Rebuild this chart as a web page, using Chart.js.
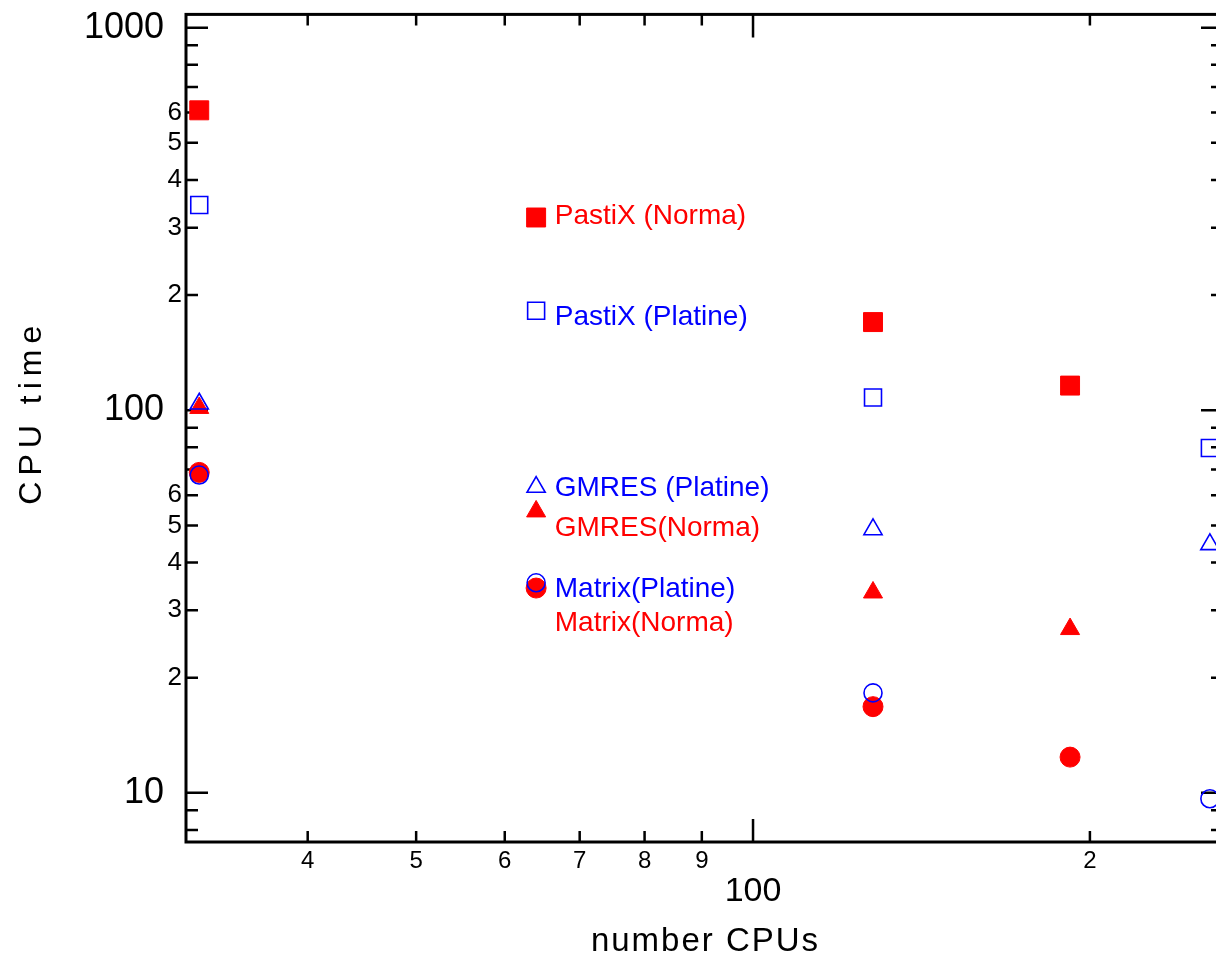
<!DOCTYPE html>
<html lang="en">
<head>
    <meta charset="UTF-8">
    <title>CPU time vs number CPUs</title>
    <style>
        html, body { margin: 0; padding: 0; background: #fff; overflow: hidden; }
        #wrap { width: 1216px; height: 962px; overflow: hidden; }
    </style>
</head>
<body>
    <div id="wrap"><canvas id="cpuChart" width="1240" height="962"></canvas></div>

    <script src="https://cdn.jsdelivr.net/npm/chart.js"></script>
    <script>
        // number of CPUs of each run
        const cpus = [32, 64, 128, 192, 256];

        // CPU time of each run (null = not run on that machine)
        const pastixNorma   = [608, 319, 170, 116, null];
        const pastixPlatine = [344, 182, 108, null, 79.7];
        const gmresPlatine  = [104, 63, 48.8, null, 44.6];
        const gmresNorma    = [101.4, 54.4, 33.4, 26.8, null];
        const matrixPlatine = [67.7, 35.4, 18.25, null, 9.65];
        const matrixNorma   = [68.8, 34.3, 16.8, 12.4, null];

        // tick values and their labels
        const xTicks = [40, 50, 60, 70, 80, 90, 100, 200];
        const xTickLabels = ['4', '5', '6', '7', '8', '9', '100', '2'];
        const yTicks = [8, 9, 10, 20, 30, 40, 50, 60, 70, 80, 90,
                        100, 200, 300, 400, 500, 600, 700, 800, 900, 1000];
        const yTickLabels = ['', '', '10', '2', '3', '4', '5', '6', '', '', '',
                             '100', '2', '3', '4', '5', '6', '', '', '', '1000'];
        const majorTicks = [10, 100, 1000];

        // where the series names are written (in data units)
        const labelX = 66.5;
        const labelY = [320.6, 175, 62.5, 49.2, 34.0, 27.8];

        const xTitle = 'number CPUs';
        const yTitle = 'CPU time';

        const FONT = '"Liberation Sans", Arial, Helvetica, sans-serif';
        Chart.defaults.font.family = FONT;
        Chart.defaults.color = '#000';

        function points(values) {
            return cpus.map((c, i) => ({ x: c, y: values[i] })).filter(p => p.y !== null);
        }

        // frame with inward ticks on all four sides
        const framePlugin = {
            id: 'frame',
            beforeDatasetsDraw(chart) {
                const { ctx, chartArea: a, scales: { x, y } } = chart;
                ctx.save();
                ctx.strokeStyle = '#000';
                ctx.lineWidth = 2.5;
                ctx.beginPath();
                x.ticks.forEach(t => {
                    const px = x.getPixelForValue(t.value);
                    const len = majorTicks.includes(t.value) ? 23 : 11;
                    ctx.moveTo(px, a.bottom); ctx.lineTo(px, a.bottom - len);
                    ctx.moveTo(px, a.top); ctx.lineTo(px, a.top + len);
                });
                y.ticks.forEach(t => {
                    const py = y.getPixelForValue(t.value);
                    const len = majorTicks.includes(t.value) ? 22 : 12;
                    ctx.moveTo(a.left, py); ctx.lineTo(a.left + len, py);
                    ctx.moveTo(a.right, py); ctx.lineTo(a.right - len, py);
                });
                ctx.stroke();
                ctx.lineWidth = 3;
                ctx.strokeRect(a.left, a.top, a.right - a.left, a.bottom - a.top);
                ctx.restore();
            },
            afterDraw(chart) {
                const { ctx, chartArea: a, scales: { x, y } } = chart;
                ctx.save();
                // series names next to the 64 CPU points
                ctx.font = '28px ' + FONT;
                ctx.textBaseline = 'middle';
                ctx.textAlign = 'left';
                chart.data.datasets.forEach((ds, i) => {
                    ctx.fillStyle = ds.borderColor;
                    ctx.fillText(ds.label, x.getPixelForValue(labelX), y.getPixelForValue(labelY[i]));
                });
                // axis titles (spaced out like the original)
                ctx.fillStyle = '#000';
                ctx.textAlign = 'center';
                ctx.font = '33px ' + FONT;
                ctx.letterSpacing = '2px';
                ctx.fillText(xTitle, (a.left + a.right) / 2 + 1, 942);
                ctx.font = '32px ' + FONT;
                ctx.letterSpacing = '6px';
                ctx.translate(32, (a.top + a.bottom) / 2 - 13);
                ctx.rotate(-Math.PI / 2);
                ctx.fillText(yTitle, 3, 0);
                ctx.restore();
            }
        };

        const ctx = document.getElementById('cpuChart').getContext('2d');
        new Chart(ctx, {
            type: 'scatter',
            data: {
                datasets: [
                    { label: 'PastiX (Norma)', data: points(pastixNorma), order: 2,
                      pointStyle: 'rect', pointRadius: 13.4, borderWidth: 1,
                      backgroundColor: '#ff0000', borderColor: '#ff0000' },
                    { label: 'PastiX (Platine)', data: points(pastixPlatine), order: 1,
                      pointStyle: 'rect', pointRadius: 12, borderWidth: 1.6,
                      backgroundColor: 'rgba(0,0,0,0)', borderColor: '#0000ff' },
                    { label: 'GMRES (Platine)', data: points(gmresPlatine), order: 1,
                      pointStyle: 'triangle', pointRadius: 10.5, borderWidth: 1.6,
                      backgroundColor: 'rgba(0,0,0,0)', borderColor: '#0000ff' },
                    { label: 'GMRES(Norma)', data: points(gmresNorma), order: 2,
                      pointStyle: 'triangle', pointRadius: 11, borderWidth: 1,
                      backgroundColor: '#ff0000', borderColor: '#ff0000' },
                    { label: 'Matrix(Platine)', data: points(matrixPlatine), order: 1,
                      pointStyle: 'circle', pointRadius: 9, borderWidth: 1.6,
                      backgroundColor: 'rgba(0,0,0,0)', borderColor: '#0000ff' },
                    { label: 'Matrix(Norma)', data: points(matrixNorma), order: 2,
                      pointStyle: 'circle', pointRadius: 10, borderWidth: 1,
                      backgroundColor: '#ff0000', borderColor: '#ff0000' }
                ]
            },
            options: {
                responsive: false,
                animation: false,
                events: [],
                layout: { padding: { top: 11, right: 17, left: 0, bottom: 0 } },
                plugins: { legend: { display: false }, tooltip: { enabled: false } },
                scales: {
                    x: {
                        type: 'logarithmic',
                        min: 31.14,
                        max: 263,
                        grid: { display: false, drawTicks: false },
                        border: { display: false },
                        afterBuildTicks: scale => { scale.ticks = xTicks.map(v => ({ value: v })); },
                        afterFit: scale => {
                            scale.height = 120;
                            scale.paddingLeft = 0;
                            scale.paddingRight = 0;
                        },
                        ticks: {
                            autoSkip: false,
                            maxRotation: 0,
                            padding: 6,
                            callback: (value, i) => xTickLabels[i],
                            font: c => majorTicks.includes(c.tick && c.tick.value)
                                ? { size: 34, lineHeight: '88px' }
                                : { size: 24, lineHeight: '26px' }
                        }
                    },
                    y: {
                        type: 'logarithmic',
                        min: 7.44,
                        max: 1083,
                        grid: { display: false, drawTicks: false },
                        border: { display: false },
                        afterBuildTicks: scale => { scale.ticks = yTicks.map(v => ({ value: v })); },
                        afterFit: scale => {
                            scale.width = 186;
                            scale.paddingTop = 0;
                            scale.paddingBottom = 0;
                        },
                        ticks: {
                            autoSkip: false,
                            padding: 4,
                            callback: (value, i) => majorTicks.includes(yTicks[i])
                                ? yTickLabels[i] + '\u2002' : yTickLabels[i],
                            font: c => majorTicks.includes(c.tick && c.tick.value)
                                ? { size: 36 } : { size: 26 }
                        }
                    }
                }
            },
            plugins: [framePlugin]
        });
    </script>
</body>
</html>
